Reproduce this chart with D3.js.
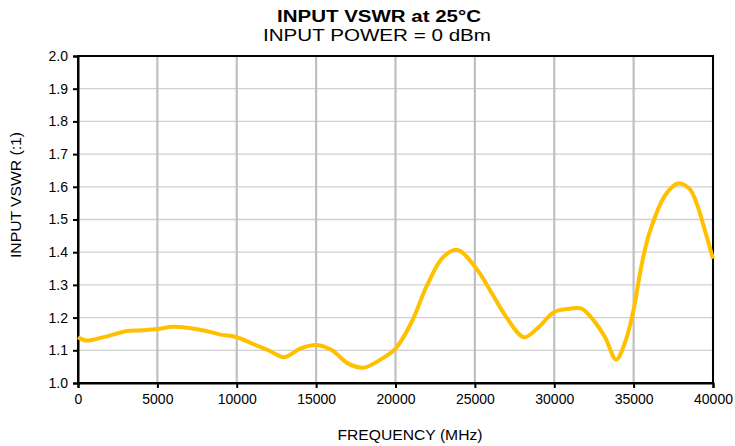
<!DOCTYPE html>
<html>
<head>
<meta charset="utf-8">
<script src="https://cdn.jsdelivr.net/npm/d3@7"></script>
<style>
  body { margin: 0; background: #fff; }
  text { font-family: "Liberation Sans", Arial, sans-serif; }
</style>
</head>
<body>
<script>
// frequency (MHz) and VSWR
var freq = [0, 500, 1000, 2000, 3000, 4000, 5000, 6000, 7000, 8000, 9000, 10000,
  11000, 12000, 13000, 14000, 15000, 16000, 17000, 18000, 19000, 20000,
  21000, 22000, 23000, 23900, 25000, 26000, 27000, 28100, 29000, 30000,
  31000, 31700, 32500, 33200, 33900, 34500, 35000, 35500, 36000, 37000,
  37800, 38500, 39000, 39500, 40000];
var vswr = [1.14, 1.13, 1.133, 1.145, 1.158, 1.161, 1.165, 1.172, 1.168, 1.16, 1.148, 1.14,
  1.12, 1.10, 1.079, 1.105, 1.116, 1.10, 1.06, 1.047, 1.07, 1.105,
  1.185, 1.30, 1.385, 1.407, 1.356, 1.28, 1.20, 1.14, 1.17, 1.217,
  1.227, 1.228, 1.19, 1.14, 1.072, 1.13, 1.225, 1.36, 1.46, 1.575,
  1.61, 1.595, 1.545, 1.465, 1.38];
var xTicks = [0, 5000, 10000, 15000, 20000, 25000, 30000, 35000, 40000];
var yTicks = [1.0, 1.1, 1.2, 1.3, 1.4, 1.5, 1.6, 1.7, 1.8, 1.9, 2.0];

var W = 735, H = 446;
var margin = { top: 56, right: 22, bottom: 63, left: 78 };
var width = W - margin.left - margin.right,
    height = H - margin.top - margin.bottom;

var svg = d3.select("body").append("svg")
    .attr("width", W)
    .attr("height", H);

var g = svg.append("g")
    .attr("transform", "translate(" + margin.left + "," + margin.top + ")");

var x = d3.scaleLinear().domain([0, 40000]).range([0, width]);
var y = d3.scaleLinear().domain([1.0, 2.0]).range([height, 0]);

// horizontal grid
g.selectAll(".hgrid").data(yTicks).enter().append("line")
    .attr("x1", 0).attr("x2", width)
    .attr("y1", function(d) { return y(d); })
    .attr("y2", function(d) { return y(d); })
    .attr("stroke", "#d0d0d0").attr("stroke-width", 1.3);

// vertical grid
g.selectAll(".vgrid").data(xTicks).enter().append("line")
    .attr("y1", 0).attr("y2", height)
    .attr("x1", function(d) { return x(d); })
    .attr("x2", function(d) { return x(d); })
    .attr("stroke", "#c0c0c0").attr("stroke-width", 2.2);

// frame
g.append("rect")
    .attr("width", width).attr("height", height)
    .attr("fill", "none").attr("stroke", "#000").attr("stroke-width", 2);

var xAxis = g.append("g")
    .attr("transform", "translate(0," + height + ")")
    .call(d3.axisBottom(x).tickValues(xTicks).tickFormat(d3.format("d")).tickSize(5).tickPadding(6));
var yAxis = g.append("g")
    .call(d3.axisLeft(y).tickValues(yTicks).tickFormat(d3.format(".1f")).tickSize(5).tickPadding(5));

[xAxis, yAxis].forEach(function(a) {
  a.select(".domain").attr("stroke", "#000").attr("stroke-width", 2);
  a.selectAll(".tick line").attr("stroke", "#000").attr("stroke-width", 2);
  a.selectAll("text").attr("fill", "#000").style("font-size", "14px")
    .style("font-family", "'Liberation Sans', Arial, sans-serif");
});

var line = d3.line()
    .x(function(d, i) { return x(freq[i]); })
    .y(function(d) { return y(d); })
    .curve(d3.curveCatmullRom.alpha(0.5));

g.append("path")
    .datum(vswr)
    .attr("fill", "none")
    .attr("stroke", "#FFC000")
    .attr("stroke-width", 4)
    .attr("stroke-linejoin", "round")
    .attr("d", line);

// titles
svg.append("text")
    .attr("x", 379).attr("y", 22)
    .attr("text-anchor", "middle")
    .attr("textLength", 204).attr("lengthAdjust", "spacingAndGlyphs")
    .style("font-size", "16px").style("font-weight", "bold")
    .text("INPUT VSWR at 25°C");
svg.append("text")
    .attr("x", 377).attr("y", 41)
    .attr("text-anchor", "middle")
    .attr("textLength", 228).attr("lengthAdjust", "spacingAndGlyphs")
    .style("font-size", "16px")
    .text("INPUT POWER = 0 dBm");

svg.append("text")
    .attr("x", 410).attr("y", 440)
    .attr("text-anchor", "middle")
    .attr("textLength", 145).attr("lengthAdjust", "spacingAndGlyphs")
    .style("font-size", "14px")
    .text("FREQUENCY  (MHz)");

svg.append("text")
    .attr("transform", "translate(21,195) rotate(-90)")
    .attr("text-anchor", "middle")
    .attr("textLength", 126).attr("lengthAdjust", "spacingAndGlyphs")
    .style("font-size", "14px")
    .text("INPUT VSWR (:1)");
</script>
</body>
</html>
